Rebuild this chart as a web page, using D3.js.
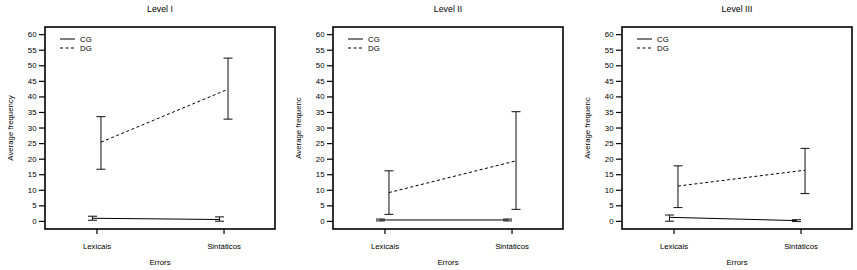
<!DOCTYPE html>
<html>
<head>
<meta charset="utf-8">
<script src="https://cdn.jsdelivr.net/npm/d3@7"></script>
<style>
  body { margin: 0; background: #fff; }
  text { font-family: "Liberation Sans", Arial, sans-serif; fill: #000; }
</style>
</head>
<body>
<div id="chart"></div>
<script>
// data
var levels = ["Level I", "Level II", "Level III"];
var yLabels = ["Average frequency", "Average frequenc", "Average frequenc"];
var categories = ["Lexicais", "Sintáticos"];
var groups = ["CG", "DG"];
var yTicks = [0, 5, 10, 15, 20, 25, 30, 35, 40, 45, 50, 55, 60];

// per level: [Lexicais, Sintáticos]
var cgMean = [[0.85, 0.45], [0.3, 0.3], [1.15, 0.1]];
var cgLow  = [[0.2, -0.1], [0.0, 0.0], [-0.1, -0.2]];
var cgHigh = [[1.5, 1.3], [0.6, 0.6], [1.9, 0.4]];
var dgMean = [[25.3, 42.3], [9.1, 19.3], [11.2, 16.3]];
var dgLow  = [[16.6, 32.7], [2.1, 3.7], [4.3, 8.8]];
var dgHigh = [[33.5, 52.3], [16.1, 35.1], [17.7, 23.3]];

var width = 857;
var height = 270;
var panelX = [0, 288, 577];
var boxLeft = 45;
var boxW = 230;
var boxTop = 27;
var boxBottom = 229;
var dodge = { CG: -4, DG: 4.5 };
var capW = 4.5;
var fontSize = "7.8px";

var svg = d3.select("#chart").append("svg")
    .attr("width", width)
    .attr("height", height);

var x = d3.scalePoint()
    .domain(categories)
    .range([0, boxW])
    .padding(0.405);

var y = d3.scaleLinear()
    .domain([-2.6, 62.3])
    .range([boxBottom, boxTop]);

levels.forEach(function (lvl, li) {
    var g = svg.append("g")
        .attr("transform", "translate(" + (panelX[li] + boxLeft) + ",0)");

    // title
    g.append("text")
        .attr("x", boxW / 2)
        .attr("y", 11.5)
        .attr("text-anchor", "middle")
        .style("font-size", "8.8px")
        .text(lvl);

    // y axis
    var yAxis = d3.axisLeft(y).tickValues(yTicks).tickSize(6).tickPadding(2.5);
    var ya = g.append("g").call(yAxis);
    ya.select(".domain").remove();
    ya.selectAll("line").attr("stroke", "#000").attr("stroke-width", 1.2);
    ya.selectAll("text").style("font-size", fontSize).style("font-family", "Liberation Sans, Arial, sans-serif");

    // x axis
    var xAxis = d3.axisBottom(x).tickSize(5).tickPadding(9);
    var xa = g.append("g")
        .attr("transform", "translate(0," + boxBottom + ")")
        .call(xAxis);
    xa.select(".domain").remove();
    xa.selectAll("line").attr("stroke", "#000").attr("stroke-width", 1.2);
    xa.selectAll("text").style("font-size", fontSize).style("font-family", "Liberation Sans, Arial, sans-serif");

    // axis titles
    g.append("text")
        .attr("x", boxW / 2)
        .attr("y", 265)
        .attr("text-anchor", "middle")
        .style("font-size", fontSize)
        .text("Errors");

    g.append("text")
        .attr("transform", "translate(" + (-32) + "," + ((boxTop + boxBottom) / 2) + ") rotate(-90)")
        .attr("text-anchor", "middle")
        .style("font-size", fontSize)
        .text(yLabels[li]);

    // series
    var series = [
        { name: "CG", mean: cgMean[li], low: cgLow[li], high: cgHigh[li], dash: null },
        { name: "DG", mean: dgMean[li], low: dgLow[li], high: dgHigh[li], dash: "3,2.5" }
    ];

    series.forEach(function (s) {
        var pts = categories.map(function (c, ci) {
            return { x: x(c) + dodge[s.name], m: s.mean[ci], lo: s.low[ci], hi: s.high[ci] };
        });

        g.append("path")
            .datum(pts)
            .attr("fill", "none")
            .attr("stroke", "#000")
            .attr("stroke-width", 1)
            .attr("stroke-dasharray", s.dash)
            .attr("d", d3.line()
                .x(function (d) { return d.x; })
                .y(function (d) { return y(d.m); }));

        var eb = g.selectAll(".eb-" + s.name)
            .data(pts)
            .enter()
            .append("g")
            .attr("class", "eb-" + s.name)
            .attr("stroke", "#222")
            .attr("stroke-width", 1.1);

        eb.append("line")
            .attr("x1", function (d) { return d.x; })
            .attr("x2", function (d) { return d.x; })
            .attr("y1", function (d) { return y(d.lo); })
            .attr("y2", function (d) { return y(d.hi); });
        eb.append("line")
            .attr("x1", function (d) { return d.x - capW; })
            .attr("x2", function (d) { return d.x + capW; })
            .attr("y1", function (d) { return y(d.lo); })
            .attr("y2", function (d) { return y(d.lo); });
        eb.append("line")
            .attr("x1", function (d) { return d.x - capW; })
            .attr("x2", function (d) { return d.x + capW; })
            .attr("y1", function (d) { return y(d.hi); })
            .attr("y2", function (d) { return y(d.hi); });
    });

    // legend
    var leg = g.selectAll(".leg")
        .data(groups)
        .enter()
        .append("g")
        .attr("class", "leg")
        .attr("transform", function (d, i) { return "translate(15," + (39 + i * 9) + ")"; });
    leg.append("line")
        .attr("x1", 0)
        .attr("x2", 15)
        .attr("stroke", "#000")
        .attr("stroke-width", 1)
        .attr("stroke-dasharray", function (d) { return d === "DG" ? "3,2.5" : null; });
    leg.append("text")
        .attr("x", 20)
        .attr("y", 2.8)
        .style("font-size", fontSize)
        .text(function (d) { return d; });

    // box
    g.append("rect")
        .attr("x", 0)
        .attr("y", boxTop)
        .attr("width", boxW)
        .attr("height", boxBottom - boxTop)
        .attr("fill", "none")
        .attr("stroke", "#000")
        .attr("stroke-width", 1.6);
});
</script>
</body>
</html>
